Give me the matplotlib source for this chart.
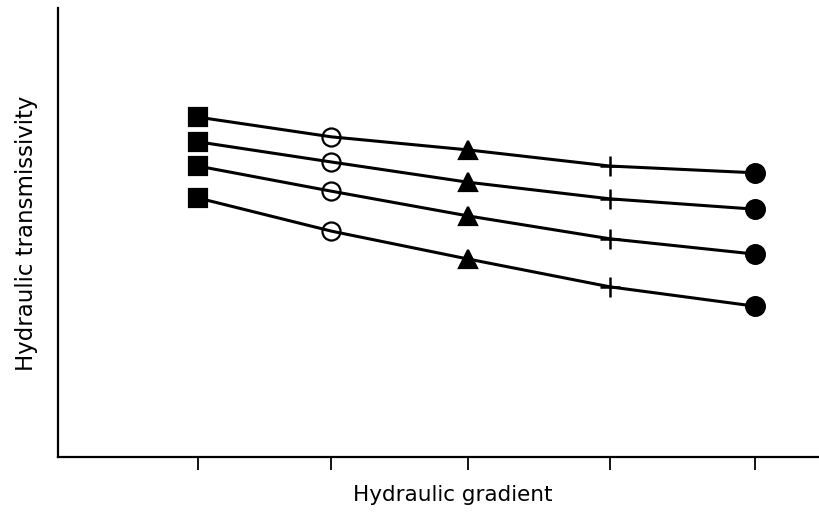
import matplotlib
matplotlib.use("Agg")
import matplotlib.pyplot as plt

# Data (relative units)
gradient = [1.0, 1.96, 2.94, 3.96, 5.0]
series = {
    "A": [75.7, 71.3, 68.4, 64.8, 63.3],
    "B": [70.2, 65.7, 61.2, 57.5, 55.2],
    "C": [64.8, 59.2, 53.7, 48.6, 45.2],
    "D": [57.7, 50.3, 44.1, 37.9, 33.6],
}
markers = ["s", "o", "^", "+", "o"]
marker_fill = ["black", "none", "black", "black", "black"]
marker_size = [12.5, 13, 13.5, 14, 13.5]
xlabel = "Hydraulic gradient"
ylabel = "Hydraulic transmissivity"

fig = plt.figure(figsize=(8.2, 5.14), dpi=100)
ax = fig.add_axes([58/820, 57/514, 762/820, 449/514])

for name, vals in series.items():
    ax.plot(gradient, vals, color="black", lw=2.2, zorder=2)
    for x, y, m, fc, ms in zip(gradient, vals, markers, marker_fill, marker_size):
        ax.plot([x], [y], marker=m, ms=ms, mfc=fc, mec="black",
                mew=1.6 if m != "+" else 1.8, color="black", zorder=3)

ax.set_xlim(-0.005, 5.47)
ax.set_ylim(0, 100)
ax.set_xticks(gradient)
ax.set_xticklabels([])
ax.set_yticks([])
ax.tick_params(axis="x", direction="out", length=9, width=1.3, color="black")
for s in ["top", "right"]:
    ax.spines[s].set_visible(False)
for s in ["left", "bottom"]:
    ax.spines[s].set_linewidth(1.6)

ax.set_xlabel(xlabel, fontsize=15.5, family="DejaVu Sans")
ax.set_ylabel(ylabel, fontsize=16.5, family="DejaVu Sans")
ax.xaxis.set_label_coords((453-58)/762, -(495-457)/449)
ax.yaxis.set_label_coords(-31/762, (457-233)/449)
ax.xaxis.label.set_va("center")
ax.yaxis.label.set_va("center")

fig.savefig("out.png", dpi=100)
